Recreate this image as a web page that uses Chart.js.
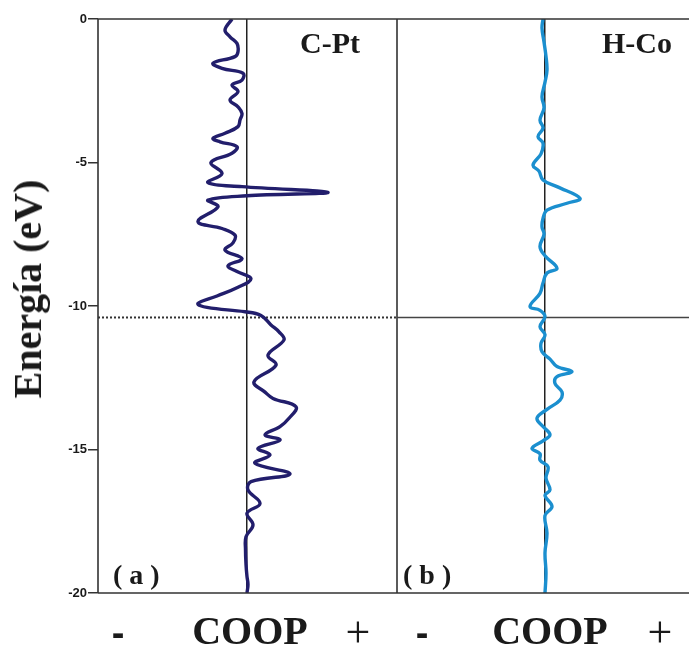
<!DOCTYPE html>
<html>
<head>
<meta charset="utf-8">
<script src="https://cdn.jsdelivr.net/npm/chart.js@4"></script>
<style>
  body { margin: 0; background: #fff; }
  #wrap { position: relative; width: 689px; height: 653px; overflow: hidden; background: #fff; }
  canvas { position: absolute; top: 0; }
  .lbl { position: absolute; font-family: "Liberation Serif", "Times New Roman", serif; font-weight: bold; color: #1a1a1a; white-space: nowrap; line-height: 1; }
  .sign { position: absolute; font-family: "Liberation Sans", Arial, sans-serif; font-weight: bold; color: #1a1a1a; line-height: 1; transform: translateX(-50%); }
  .plus { position: absolute; font-family: "Liberation Serif", serif; font-weight: normal; color: #1a1a1a; line-height: 1; transform: translateX(-50%); }
</style>
</head>
<body>
<div id="wrap">
  <canvas id="cpt" width="399" height="653" style="left:0;width:399px;height:653px"></canvas>
  <canvas id="hco" width="292" height="653" style="left:397px;width:292px;height:653px"></canvas>

  <div class="lbl" style="left:28px;top:289px;font-size:40px;transform:translate(-50%,-50%) rotate(-90deg)">Energía (eV)</div>
  <div class="lbl" style="left:300px;top:28px;font-size:30px">C-Pt</div>
  <div class="lbl" style="left:602px;top:28px;font-size:30px">H-Co</div>
  <div class="lbl" style="left:113px;top:561px;font-size:28px;white-space:pre">( a )</div>
  <div class="lbl" style="left:403px;top:561px;font-size:28px;white-space:pre">( b )</div>

  <div class="sign" style="left:118px;top:614px;font-size:38px">-</div>
  <div class="lbl" style="left:250px;top:611px;font-size:40px;transform:translateX(-50%)">COOP</div>
  <div class="plus" style="left:358px;top:611px;font-size:44px">+</div>
  <div class="sign" style="left:422px;top:614px;font-size:38px">-</div>
  <div class="lbl" style="left:550px;top:611px;font-size:40px;transform:translateX(-50%)">COOP</div>
  <div class="plus" style="left:660px;top:611px;font-size:44px">+</div>
</div>

<script>
// energy axis (eV)
const energyMin = -20;
const energyMax = 0;
const energyStep = 5;
const fermiLevel = -10.4;

// COOP axis extents (arbitrary units) for each panel
const cptCoopMin = -1.49, cptCoopMax = 1.50;
const hcoCoopMin = -1.48, hcoCoopMax = 1.44;

// (a) C-Pt COOP curve
const cptEnergy = [0, -0.38, -0.62, -0.85, -1.14, -1.31, -1.54, -1.72, -1.89, -2.13,
  -2.30, -2.53, -2.82, -3.06, -3.29, -3.52, -3.75, -3.98, -4.16, -4.28,
  -4.45, -4.68, -5.0, -5.38, -5.70, -5.84, -6.04, -6.16, -6.31, -6.54,
  -7.06, -7.30, -7.53, -7.80, -8.05, -8.35, -8.60, -8.80, -9.05, -9.35,
  -9.65, -9.91, -10.05, -10.20, -10.33, -10.66, -10.90, -11.18, -11.71, -12.06,
  -12.64, -13.0, -13.22, -13.51, -13.91, -14.20, -14.49, -14.67, -14.96, -15.19,
  -15.48, -15.85, -16.12, -16.41, -16.88, -17.22, -17.63, -18.04, -18.5, -19.0,
  -19.43, -19.7, -20];
const cptCoop = [-0.15, -0.22, -0.17, -0.10, -0.09, -0.12, -0.34, -0.25, -0.04, -0.05,
  -0.15, -0.09, -0.17, -0.09, -0.05, -0.07, -0.09, -0.22, -0.34, -0.27,
  -0.10, -0.15, -0.36, -0.25, -0.39, -0.05, 0.81, 0.0, -0.39, -0.29,
  -0.49, -0.25, -0.12, -0.14, -0.22, -0.05, -0.19, -0.10, 0.04, -0.09,
  -0.30, -0.49, -0.40, -0.02, 0.14, 0.24, 0.32, 0.37, 0.21, 0.29,
  0.07, 0.18, 0.26, 0.49, 0.42, 0.33, 0.18, 0.33, 0.11, 0.23,
  0.08, 0.43, 0.04, 0.01, 0.13, 0.0, 0.06, -0.01, -0.015, -0.01,
  0.0, 0.01, 0.0];

// (b) H-Co COOP curve
const hcoEnergy = [0, -0.32, -0.8, -1.3, -1.78, -2.2, -2.71, -3.1, -3.52, -3.8,
  -4.10, -4.33, -4.7, -5.09, -5.3, -5.61, -5.84, -6.25, -6.42, -6.66,
  -6.95, -7.24, -7.5, -7.93, -8.25, -8.69, -8.85, -9.2, -9.56, -10.02,
  -10.15, -10.37, -10.72, -11.0, -11.3, -11.59, -11.85, -12.11, -12.29, -12.46,
  -12.7, -13.0, -13.28, -13.6, -13.91, -14.2, -14.49, -14.7, -14.96, -15.15,
  -15.37, -15.6, -16.0, -16.41, -16.6, -16.99, -17.3, -17.92, -18.6, -19.3, -20];
const hcoCoop = [-0.02, -0.03, -0.01, 0.01, 0.02, 0.0, -0.03, -0.01, -0.05, -0.02,
  -0.07, -0.02, -0.04, -0.12, -0.06, -0.02, 0.12, 0.35, 0.22, 0.02,
  -0.02, -0.03, -0.01, -0.05, 0.0, 0.12, 0.02, -0.02, -0.05, -0.15,
  -0.05, 0.0, -0.05, 0.0, -0.04, -0.03, 0.05, 0.12, 0.27, 0.12,
  0.10, 0.17, 0.15, 0.02, -0.08, -0.02, 0.05, -0.02, -0.13, -0.05,
  -0.05, 0.03, 0.01, 0.05, 0.0, 0.07, 0.0, 0.02, 0.0, 0.01, 0.0];

const cptColor = "#221e6c";
const hcoColor = "#1b8fcf";
const frameColor = "#333";

function toPoints(energy, coop) {
  return energy.map((e, i) => ({ x: coop[i], y: e }));
}

function framePlugin(sides) {
  return {
    id: "frame",
    afterDraw(chart) {
      const { ctx, chartArea: a } = chart;
      ctx.save();
      ctx.strokeStyle = frameColor;
      ctx.lineWidth = 1.6;
      ctx.beginPath();
      if (sides.includes("top")) { ctx.moveTo(a.left, a.top); ctx.lineTo(a.right, a.top); }
      if (sides.includes("bottom")) { ctx.moveTo(a.left, a.bottom); ctx.lineTo(a.right, a.bottom); }
      if (sides.includes("left")) { ctx.moveTo(a.left, a.top); ctx.lineTo(a.left, a.bottom); }
      if (sides.includes("right")) { ctx.moveTo(a.right, a.top); ctx.lineTo(a.right, a.bottom); }
      ctx.stroke();
      ctx.restore();
    }
  };
}

function xScale(min, max) {
  return {
    type: "linear", min, max,
    afterFit: s => { s.height = 0; },
    afterBuildTicks: s => { s.ticks = [{ value: 0 }]; },
    ticks: { display: false },
    grid: { color: "#222", lineWidth: 1.5, drawTicks: false },
    border: { display: false }
  };
}

function yScale(show) {
  return {
    type: "linear", min: energyMin, max: energyMax, display: show,
    afterFit: s => { s.width = show ? 98 : 0; },
    ticks: {
      stepSize: energyStep, color: "#1a1a1a", padding: 1,
      font: { family: "'Liberation Sans', Arial, sans-serif", size: 13, weight: "bold" }
    },
    grid: { drawOnChartArea: false, tickLength: 10, color: frameColor, lineWidth: 1.5 },
    border: { display: false }
  };
}

function coopChart(id, points, color, xmin, xmax, fermiStyle, showY, sides, padding) {
  return new Chart(document.getElementById(id), {
    type: "line",
    data: {
      datasets: [
        { data: points, borderColor: color, borderWidth: 3.4, tension: 0.4,
          pointRadius: 0, fill: false },
        Object.assign({ data: [{ x: xmin, y: fermiLevel }, { x: xmax, y: fermiLevel }],
          pointRadius: 0, fill: false, tension: 0 }, fermiStyle)
      ]
    },
    options: {
      responsive: false, animation: false, devicePixelRatio: 1,
      layout: { padding },
      plugins: { legend: { display: false }, tooltip: { enabled: false } },
      scales: { x: xScale(xmin, xmax), y: yScale(showY) }
    },
    plugins: [framePlugin(sides)]
  });
}

coopChart("cpt", toPoints(cptEnergy, cptCoop), cptColor, cptCoopMin, cptCoopMax,
  { borderColor: "#333", borderWidth: 2, borderDash: [2, 2] },
  true, ["top", "bottom", "left", "right"], { top: 19, bottom: 60, left: 0, right: 2 });

coopChart("hco", toPoints(hcoEnergy, hcoCoop), hcoColor, hcoCoopMin, hcoCoopMax,
  { borderColor: "#444", borderWidth: 1.5 },
  false, ["top", "bottom"], { top: 19, bottom: 60, left: 0, right: 0 });
</script>
</body>
</html>
